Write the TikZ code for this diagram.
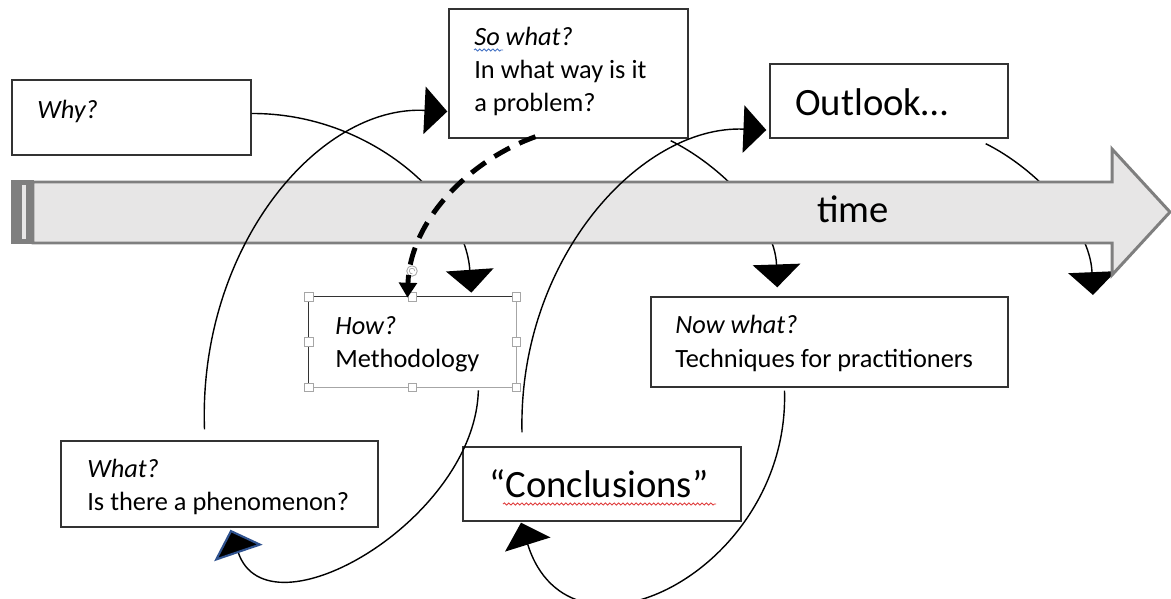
\documentclass[tikz,border=0pt]{standalone}
\usepackage{fontspec}
\setmainfont{Carlito}
\usetikzlibrary{arrows.meta,fit,decorations.pathmorphing}
\definecolor{barfill}{HTML}{E7E6E6}
\definecolor{baredge}{HTML}{7F7F7F}
\definecolor{boxedge}{HTML}{333333}
\definecolor{selgray}{HTML}{A6A6A6}
\definecolor{tipblue}{HTML}{2F528F}
\definecolor{spellblue}{HTML}{4472C4}
\definecolor{spellred}{HTML}{E03C3C}
\tikzset{
  box/.style={draw=boxedge, line width=0.8pt, fill=white, inner sep=0pt},
  lbl/.style={anchor=base west, inner sep=0pt, font=\fontsize{15}{19}\selectfont},
  biglbl/.style={anchor=base west, inner sep=0pt, font=\fontsize{22}{26}\selectfont},
  loop/.style={line width=0.8pt, -{Triangle[length=13pt,width=27pt]}},
  handle/.style={draw=selgray, fill=white, line width=0.5pt, minimum size=5pt, inner sep=0pt},
  squiggle/.style={decorate, decoration={snake, amplitude=0.6pt, segment length=2.5pt}, line width=0.5pt}
}
\begin{document}
\begin{tikzpicture}[x=0.02cm, y=-0.02cm]
		\useasboundingbox (0,0) rectangle (1171,599);
		% boxes
		\node[box, fit={(12,80) (251,155)}] (why) {};
		\node[box, fit={(449,9) (688,138)}] (sowhat) {};
		\node[box, fit={(770,64) (1008,138)}] (outlook) {};
		\node[fill=white, inner sep=0pt, fit={(309,297) (516,387)}] (how) {};
		\node[box, fit={(651,297) (1008,387)}] (nowwhat) {};
		\node[box, fit={(61,441) (378,527)}] (what) {};
		\node[box, fit={(463,447) (741,521)}] (concl) {};
		\coordinate (away) at (1093,295);
		
		% loops behind the bar
		\draw[loop] ([yshift=0.08cm]why.east) .. controls (370,113) and (465,200) .. ([shift={(-45,-4)}]how.north east);
		\draw[loop] ([shift={(-18,2)}]sowhat.south east) .. controls (720,165) and (775,220) .. ([shift={(127,-9)}]nowwhat.north west);
		\draw[loop] ([shift={(-23,5)}]outlook.south east) .. controls (1035,168) and (1090,225) .. (away);
		
		% time bar
		\fill[baredge] (11,180) rectangle (34,244);
		\fill[barfill] (22,185) rectangle (26,239);
		\draw[line width=1.7pt, draw=baredge, fill=barfill] (33,182) -- (1112,182) -- (1112,149) -- (1170,212) -- (1112,275) -- (1112,243) -- (33,243) -- cycle;
		\node[biglbl] (time) at (817,222) {time};
		
		% loops in front
		\draw[loop] ([shift={(-15,-11)}]what.north) .. controls (198,248) and (318,105) .. ([shift={(-1,38)}]sowhat.west);
		\draw[loop] ([shift={(-80,-14)}]concl.north) .. controls (518,260) and (640,125) .. ([shift={(-3,29)}]outlook.west);
		\draw[line width=0.8pt, -{Triangle[length=14pt,width=29pt,line width=1.2pt,color=tipblue,fill=black]}] ([shift={(-38,3)}]how.south east) .. controls (475,520) and (268,640) .. ([shift={(11,2)}]what.south);
		\draw[loop] ([shift={(-45,3)}]nowwhat.south) .. controls (790,570) and (570,680) .. ([shift={(-81,1)}]concl.south);
		
		% how box, selected
		\draw[boxedge, line width=0.9pt] (how.south west) |- (how.north east);
		\draw[selgray, line width=0.5pt] (how.north east) |- (how.south west);
		\foreach \a/\n in {north west/hnw, north/hn, north east/hne, east/he, south east/hse, south/hs, south west/hsw, west/hw}
			\node[handle] (\n) at (how.\a) {};
		\node[handle, circle, minimum size=6pt] (hrot) at (412,271) {};
		\draw[selgray, line width=0.4pt] ([xshift=1.6pt]hrot.center) arc[start angle=0, end angle=280, radius=1.6pt];
		
		% dashed jump
		\draw[line width=2.8pt, dash pattern=on 10pt off 6pt, -{Triangle[length=8.5pt,width=10pt]}] ([shift={(-33,-2)}]sowhat.south) .. controls (470,160) and (410,220) .. ([shift={(-5,1)}]how.north);
		
		% texts
		\node[lbl] (whyq) at (37,118) {\textit{Why?}};
		\node[lbl] (sowhatq) at (474,45) {\textit{So what?}};
		\node[lbl] (sowhatb) at (474,78) {In what way is it};
		\node[lbl] (sowhatc) at (474,111) {a problem?};
		\node[biglbl] (outlookt) at (795,115) {Outlook…};
		\node[lbl] (howq) at (335,334) {\textit{How?}};
		\node[lbl] (howt) at (335,367) {Methodology};
		\node[lbl] (nowq) at (675,333) {\textit{Now what?}};
		\node[lbl] (nowt) at (675,367) {Techniques for practitioners};
		\node[lbl] (whatq) at (87,477) {\textit{What?}};
		\node[lbl] (whatt) at (87,510) {Is there a phenomenon?};
		\node[biglbl] (conclt) at (489,497) {“Conclusions”};
		% spelling marks
		\draw[squiggle, spellblue] (474,50) -- (503,50);
		\draw[squiggle, spellred] (503,504) -- (716,504);
	\end{tikzpicture}
\end{document}
